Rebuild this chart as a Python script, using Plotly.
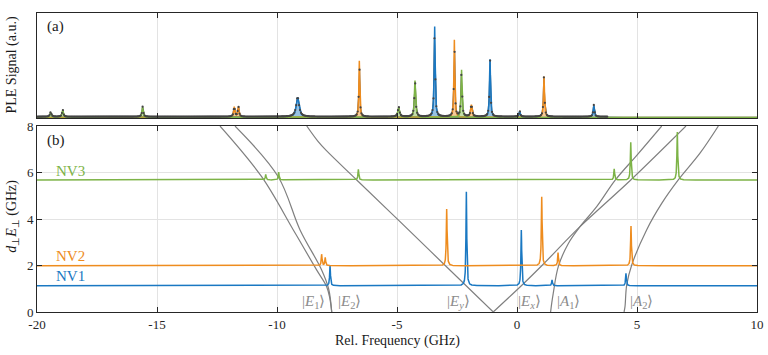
import numpy as np
import plotly.graph_objects as go

# ---- data ----
# (b) simulated PLE lines, one baseline per NV (baseline = d_perp E_perp in GHz)
nv_names = ['NV1', 'NV2', 'NV3']
nv_colors = ['#1a78c2', '#ee8c1e', '#7db347']
nv_base = [1.13, 1.99, 5.68]
nv1_pos = [-7.79, -2.11, 0.18, 1.46, 4.54]
nv1_h = [0.89, 4.04, 2.40, 0.25, 0.53]
nv2_pos = [-8.14, -7.99, -2.93, 1.03, 1.71, 4.75]
nv2_h = [0.49, 0.35, 2.44, 2.97, 0.56, 1.71]
nv3_pos = [-10.47, -9.93, -6.61, 4.05, 4.74, 6.68]
nv3_h = [0.24, 0.34, 0.46, 0.48, 1.62, 2.06]

# (a) measured PLE peaks (normalised height)
ple1_pos = [-9.14, -3.43, -1.125, 0.11, 3.2]
ple1_h = [0.19, 0.865, 0.555, 0.055, 0.112]
ple1_w = [0.07, 0.025, 0.025, 0.03, 0.03]
ple2_pos = [-11.78, -11.61, -6.57, -2.61, -1.9, 1.125]
ple2_h = [0.10, 0.10, 0.54, 0.74, 0.12, 0.39]
ple2_w = [0.03, 0.03, 0.022, 0.022, 0.035, 0.025]
ple3_pos = [-19.43, -18.93, -15.6, -4.93, -4.25, -2.31]
ple3_h = [0.045, 0.07, 0.095, 0.095, 0.35, 0.455]
ple3_w = [0.035, 0.03, 0.03, 0.04, 0.03, 0.025]
ple_end = 3.8

# gray level curves (x, y) in panel (b)
e1_x = [-7.72, -7.8, -7.93, -8.35, -9.32, -10.64, -12.375]
e1_y = [0, 0.6, 1.09, 1.81, 3.53, 5.82, 8.0]
e2_x = [-7.72, -7.85, -8.14, -9.04, -9.95, -11.75]
e2_y = [0, 1.0, 1.81, 3.53, 5.82, 8.0]
ey_x = [-0.99, -2.98, -4.95, -6.7, -7.95, -8.3, -8.76]
ey_y = [0, 1.99, 3.96, 5.7, 6.95, 7.35, 8.0]
ex_x = [-0.99, 0.18, 1.03, 2.625, 4.74, 7.04]
ex_y = [0, 1.13, 1.99, 3.67, 5.68, 8.0]
a1_x = [1.4, 1.45, 1.51, 1.72, 2.14, 2.625, 3.32, 4.1, 5.0, 6.03]
a1_y = [0, 0.4, 0.8, 1.95, 2.95, 3.67, 4.53, 5.68, 6.75, 8.0]
a2_x = [4.46, 4.5, 4.57, 4.78, 5.4, 6.03, 6.72, 7.625, 8.39]
a2_y = [0, 0.23, 1.16, 2.02, 3.53, 4.67, 5.68, 6.83, 8.0]

state_labels = ['|<i>E</i><sub>1</sub>⟩', '|<i>E</i><sub>2</sub>⟩', '|<i>E<sub>y</sub></i>⟩',
                '|<i>E<sub>x</sub></i>⟩', '|<i>A</i><sub>1</sub>⟩', '|<i>A</i><sub>2</sub>⟩']
state_label_x = [-8.5, -7.0, -2.42, 0.54, 2.13, 5.2]


def lorentz(x, pos, h, w):
    y = np.zeros_like(x)
    for c, a, g in zip(pos, h, w):
        y += a / (1 + ((x - c) / g) ** 2)
    return y


FONT = 'Liberation Serif'
GRAY = '#7f7f7f'
fig = go.Figure()

# ---- panel (a) ----
xf = np.linspace(-20, 10, 6001)
fits = [(ple1_pos, ple1_h, ple1_w), (ple2_pos, ple2_h, ple2_w), (ple3_pos, ple3_h, ple3_w)]
xd = np.arange(-20, ple_end, 0.04)
yd = 0.012 + sum(lorentz(xd, p, h, w) for p, h, w in fits)

# measured trace (line) under the fits, points on top
fig.add_trace(go.Scatter(x=xd, y=yd, mode='lines', line=dict(color='#555555', width=1.2),
                         xaxis='x2', yaxis='y2', showlegend=False, hoverinfo='skip'))
fills = ['rgba(26,120,194,0.45)', 'rgba(238,140,30,0.45)', 'rgba(125,179,71,0.45)']
for (p, h, w), col, fc in zip(fits, nv_colors, fills):
    fig.add_trace(go.Scatter(x=xf, y=0.005 + lorentz(xf, p, h, w), mode='lines',
                             line=dict(color=col, width=1.5), fill='tozeroy', fillcolor=fc,
                             xaxis='x2', yaxis='y2', showlegend=False, hoverinfo='skip'))
fig.add_trace(go.Scatter(x=xd, y=yd, mode='markers', marker=dict(color='#444444', size=2.2),
                         xaxis='x2', yaxis='y2', showlegend=False, hoverinfo='skip'))

# ---- panel (b) ----
for cx, cy in [(e1_x, e1_y), (e2_x, e2_y), (ey_x, ey_y), (ex_x, ex_y), (a1_x, a1_y), (a2_x, a2_y)]:
    fig.add_trace(go.Scatter(x=cx, y=cy, mode='lines', line=dict(color=GRAY, width=1.2, shape='spline'),
                             showlegend=False, hoverinfo='skip'))

peaks = [(nv1_pos, nv1_h), (nv2_pos, nv2_h), (nv3_pos, nv3_h)]
for (p, h), base, col in zip(peaks, nv_base, nv_colors):
    fig.add_trace(go.Scatter(x=xf, y=base + lorentz(xf, p, h, [0.02] * len(p)), mode='lines',
                             line=dict(color=col, width=1.5), showlegend=False, hoverinfo='skip'))

annots = []
for name, base, col in zip(nv_names, nv_base, nv_colors):
    annots.append(dict(x=-18.6, y=base + 0.4, xref='x', yref='y', text=name, showarrow=False,
                       font=dict(family=FONT, size=15, color=col)))
for txt, lx in zip(state_labels, state_label_x):
    annots.append(dict(x=lx, y=0.43, xref='x', yref='y', text=txt, showarrow=False,
                       font=dict(family=FONT, size=15, color='#8c8c8c')))
annots += [
    dict(x=0.011, y=0.956, xref='paper', yref='paper', text='(a)', showarrow=False,
         xanchor='left', yanchor='middle', font=dict(family=FONT, size=15, color='#1a1a1a')),
    dict(x=0.011, y=0.575, xref='paper', yref='paper', text='(b)', showarrow=False,
         xanchor='left', yanchor='middle', font=dict(family=FONT, size=15, color='#1a1a1a')),
    dict(x=-0.034, y=0.826, xref='paper', yref='paper', text='PLE Signal (a.u.)', textangle=-90,
         xanchor='center', yanchor='middle',
         showarrow=False, font=dict(family=FONT, size=14, color='#1a1a1a')),
    dict(x=-0.034, y=0.32, xref='paper', yref='paper', text='<i>d</i><sub>⊥</sub><i>E</i><sub>⊥</sub> (GHz)',
         xanchor='center', yanchor='middle',
         textangle=-90, showarrow=False, font=dict(family=FONT, size=14, color='#1a1a1a')),
    dict(x=0.5, y=-0.098, xref='paper', yref='paper', text='Rel. Frequency (GHz)', showarrow=False,
         xanchor='center', yanchor='middle', font=dict(family=FONT, size=14, color='#1a1a1a')),
]

ax = dict(showline=True, linecolor='#262626', linewidth=1, mirror='ticks', ticks='inside',
          ticklen=5, tickcolor='#262626', zeroline=False, gridcolor='#e3e3e3')
fig.update_layout(
    width=768, height=355, margin=dict(l=37, r=11, t=13, b=43, autoexpand=False),
    plot_bgcolor='white', paper_bgcolor='white',
    font=dict(family=FONT, size=13, color='#262626'),
    annotations=annots,
    xaxis=dict(ax, domain=[0, 1], range=[-20, 10], anchor='y', tickvals=[-20, -15, -10, -5, 0, 5, 10],
               ticktext=['-20', '-15', '-10', '-5', '0', '5', '10'], showgrid=True),
    yaxis=dict(ax, domain=[0, 0.622], range=[0, 8], anchor='x', tickvals=[0, 2, 4, 6, 8], showgrid=True),
    xaxis2=dict(ax, domain=[0, 1], range=[-20, 10], anchor='y2', tickvals=[-20, -15, -10, -5, 0, 5, 10],
                showticklabels=False, showgrid=True),
    yaxis2=dict(ax, domain=[0.649, 1], range=[0, 1], anchor='x2', ticks='', mirror=True,
                showticklabels=False, showgrid=False),
)

fig.write_html('out.html', config={'displayModeBar': False},
               post_script="document.body.style.margin='0px';")
